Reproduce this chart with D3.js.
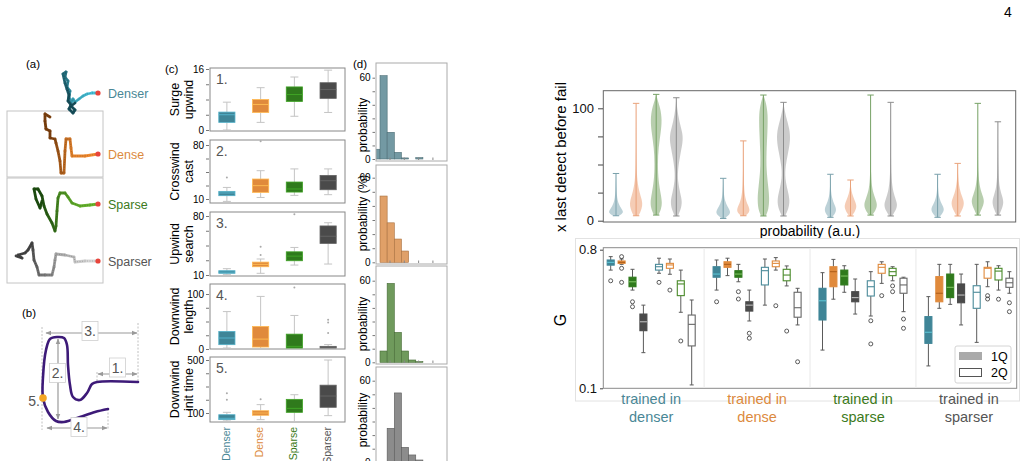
<!DOCTYPE html>
<html><head><meta charset="utf-8">
<script src="https://cdn.jsdelivr.net/npm/d3@7"></script>
<style>body{margin:0;background:#fff}svg{display:block}text{font-family:'Liberation Sans',Arial,Helvetica,sans-serif}</style>
</head><body><svg id="c" width="1029" height="461"></svg>
<script>
// ================= DATA =================
const envNames = ["Denser","Dense","Sparse","Sparser"];
// (a) trajectories, relative to the source (red dot); x to the right, y downward
const trajDenser = [[91,0],[85,0],[80,1],[76,3],[72,6],[68,9],[66,6],[64,10],[62,4],[63,-2],[60,-6],[61,-12],[58,-16],[59,-21],[56,-19],[58,-10],[60,-4],[62,2],[61,8],[64,12],[62,16],[66,20],[68,17],[64,13],[68,10]];
const trajDense = [[91,0],[78,2],[65,2],[64,-6],[63,-15],[59,-15],[58,-3],[57,19],[54,19],[53,7],[51,-3],[49,-11],[48,-15],[43,-16],[43,-23],[39,-25],[38,-33],[38,-40],[43,-37]];
const trajSparse = [[91,0],[83,1],[73,2],[65,-1],[61,-7],[58,-11],[53,-11],[51,-6],[50,7],[49,22],[48,27],[45,19],[40,10],[37,2],[35,-8],[31,-15],[27,-15],[29,-5],[33,4],[35,-3]];
const trajSparser = [[91,0],[78,0],[68,1],[67,-4],[58,-6],[49,-7],[48,-1],[47,6],[45,14],[38,14],[32,14],[30,6],[27,-1],[26,-11],[25,-18],[21,-11],[18,-8],[11,-6],[15,-3],[9,-5]];
// (b) schematic trajectory
const schematicPath = [[138,382],[97,382],[92,384],[87,393],[80,400],[73,397],[70,385],[68,365],[67,345],[64,338],[57,337],[50,339],[46,350],[43,377],[43,398],[48,412],[56,421],[64,422],[80,417],[95,412],[108,409]];
// (c) box stats [lo,q1,med,q3,hi] per environment
const metricLabels = [["Surge","upwind"],["Crosswind","cast"],["Upwind","search"],["Downwind","length"],["Downwind","init time"]];
const metricTickLabels = [[0,16],[10,80],[10,80],[0,100],[100,500]];
const surgeUpwind = [[0,2,4,4.7,7.3],[2,4.6,6.7,8,11.1],[3.6,7.5,9.3,11.3,13.9],[4.6,8.3,10.6,12.4,15.7]];
const surgeUpwindOut = [[],[],[],[]];
const crosswindCast = [[6.9,14.3,17.8,19.9,25],[12,18.6,27.3,35.9,46.7],[14.7,19,23,32,49],[15.6,22,33.7,40.6,49]];
const crosswindCastOut = [[38],[85],[],[]];
const upwindSearch = [[10.4,12,13.4,15.1,17.5],[12,19.8,22.6,25.3,29],[21.8,26.9,32.4,37.5,42.7],[23,47.5,56,68.2,72]];
const upwindSearchOut = [[],[33.6,43.4],[82],[]];
const downwindLength = [[1.8,7.9,20,32,68],[1,3.6,18,41,95.6],[0,1.8,4.8,27,61],[0,1.8,3,4.8,8]];
const downwindLengthOut = [[],[],[112],[29,48,53]];
const downwindInit = [[40,50,60,87,105],[50,83,100,117,163],[35,105,135,203,238],[80,143,228,310,500]];
const downwindInitOut = [[200,250],[203],[],[]];
// (d) histograms (probability, %) per bin index
const histBins = [-1,0,1,2,3,4,5];
const histDenser = [7.2,61.5,19.7,4.9,0.8,0,1];
const histDense = [0,47,28,16.5,8,0,0];
const histSparse = [0,8.3,58,22,8.3,1.7,0.5];
const histSparser = [0,0,25,51,11,5.4,1.7];
const histTicks = [1.4,3.4,5.4,7.4];
// violins: [value, relative density] per test environment, per training group
const violinDenser = [
 [[4.4,0.3],[6,0.8],[8,1.0],[11,0.7],[15,0.35],[20,0.15],[28,0.05],[42,0]],
 [[4.4,0.3],[8,0.6],[13,0.85],[18,0.8],[25,0.45],[35,0.15],[50,0.05],[70,0.02],[104.4,0]],
 [[5,0.3],[10,0.65],[16,0.8],[24,0.6],[35,0.3],[50,0.2],[65,0.3],[78,0.6],[90,0.78],[100,0.55],[107,0.2],[112.4,0]],
 [[4.2,0.2],[10,0.6],[17,0.8],[25,0.5],[35,0.2],[45,0.2],[58,0.5],[70,0.88],[78,0.85],[88,0.4],[100,0.1],[109.4,0]]];
const violinDense = [
 [[2,0.2],[5,0.8],[8,1.0],[12,0.6],[18,0.2],[25,0.06],[37.7,0]],
 [[4.4,0.3],[7,0.75],[10,0.87],[14,0.6],[20,0.25],[30,0.08],[50,0.02],[71,0]],
 [[4.2,0.3],[10,0.7],[20,0.8],[30,0.65],[45,0.4],[60,0.4],[80,0.55],[95,0.6],[105,0.35],[111.8,0]],
 [[4.2,0.2],[10,0.65],[18,0.87],[27,0.55],[38,0.2],[48,0.25],[60,0.6],[72,0.93],[82,0.8],[92,0.35],[100,0.1],[105.3,0]]];
const violinSparse = [
 [[3,0.2],[6,0.6],[10,0.82],[14,0.55],[20,0.2],[28,0.05],[41.3,0]],
 [[4.2,0.15],[8,0.6],[13,0.87],[18,0.55],[24,0.2],[30,0.06],[36.2,0]],
 [[5,0.2],[9,0.65],[14,0.93],[20,0.6],[28,0.2],[40,0.06],[60,0.02],[111.8,0]],
 [[4.2,0.2],[9,0.65],[14,0.93],[20,0.6],[28,0.25],[40,0.08],[60,0.03],[105.3,0]]];
const violinSparser = [
 [[3,0.2],[6,0.6],[10,0.93],[14,0.6],[20,0.2],[28,0.05],[41.3,0]],
 [[4.2,0.15],[9,0.55],[15.5,0.93],[21,0.6],[28,0.25],[38,0.06],[51,0]],
 [[5,0.15],[10,0.5],[17,0.93],[23,0.6],[30,0.25],[42,0.06],[60,0.02],[104.4,0]],
 [[5,0.15],[10,0.5],[16.4,0.8],[22,0.55],[30,0.2],[42,0.05],[88,0]]];
// G boxplots: first 4 = 1Q (filled), last 4 = 2Q (hollow)
const trainedDenser = [
 {s:[0.697,0.722,0.736,0.748,0.765],o:[0.643]},{s:[0.726,0.731,0.736,0.743,0.753],o:[0.765,0.706,0.635]},
 {s:[0.596,0.613,0.638,0.661,0.701],o:[0.537,0.512]},{s:[0.28,0.391,0.436,0.475,0.52],o:[]},
 {s:[0.681,0.697,0.714,0.726,0.757],o:[0.635]},{s:[0.676,0.706,0.723,0.731,0.753],o:[0.596]},
 {s:[0.484,0.568,0.627,0.643,0.697],o:[0.339]},{s:[0.117,0.314,0.423,0.47,0.546],o:[]}];
const trainedDense = [
 {s:[0.596,0.661,0.677,0.714,0.748],o:[0.537]},{s:[0.669,0.711,0.726,0.739,0.757],o:[]},
 {s:[0.638,0.661,0.677,0.694,0.726],o:[0.588,0.551]},{s:[0.44,0.49,0.52,0.537,0.596],o:[0.378,0.353]},
 {s:[0.52,0.622,0.694,0.711,0.753],o:[]},{s:[0.697,0.714,0.731,0.743,0.76],o:[0.517]},
 {s:[0.617,0.643,0.672,0.701,0.718],o:[0.389]},{s:[0.42,0.459,0.507,0.585,0.605],o:[0.234]}];
const trainedSparse = [
 {s:[0.293,0.445,0.542,0.605,0.684],o:[]},{s:[0.55,0.613,0.689,0.714,0.751],o:[]},
 {s:[0.585,0.622,0.667,0.697,0.719],o:[]},{s:[0.475,0.537,0.558,0.588,0.652],o:[]},
 {s:[0.465,0.566,0.613,0.643,0.689],o:[0.441,0.324]},{s:[0.63,0.681,0.711,0.726,0.739],o:[0.568]},
 {s:[0.643,0.669,0.689,0.706,0.714],o:[0.617,0.588]},{s:[0.487,0.58,0.622,0.656,0.661],o:[0.45,0.403]}];
const trainedSparser = [
 {s:[0.213,0.327,0.383,0.462,0.563],o:[]},{s:[0.504,0.537,0.58,0.664,0.726],o:[]},
 {s:[0.524,0.558,0.61,0.677,0.726],o:[]},{s:[0.42,0.532,0.571,0.627,0.677],o:[]},
 {s:[0.332,0.504,0.585,0.618,0.726],o:[]},{s:[0.613,0.656,0.706,0.711,0.739],o:[0.568,0.551]},
 {s:[0.596,0.647,0.692,0.706,0.719],o:[0.55]},{s:[0.58,0.61,0.633,0.656,0.689],o:[0.532,0.487]}];
const groupLabels = [["trained in","denser"],["trained in","dense"],["trained in","sparse"],["trained in","sparser"]];
const legendLabels = ["1Q","2Q"];

// ================= STYLE =================
const envColor = ["#4a8796","#dc8a3e","#3c7a20","#555555"];
const boxFill = ["#3f8597","#e08a3c","#2f7a1c","#4a4a4a"];
const boxMed = ["#5cc4d4","#b0601c","#7cc060","#bdbdbd"];
const hollowCol = ["#4a8a99","#e08a3c","#4a8a2a","#666666"];
const violinFill = ["#8fb2bc","#eeaa84","#88ad78","#a9a9a9"];
const violinLine = ["#7aa1ac","#e9a27a","#77a266","#8d8d8d"];
const histFill = ["#7399a3","#e0a068","#6f9a5c","#8c8c8c"];
const histStroke = ["#4d6e76","#a8703e","#466b36","#5a5a5a"];
const trajDark = ["#174e5a","#7a3f0e","#1d4d10","#444444"];
const trajLight = ["#48c4dc","#f08a30","#6ab82e","#d8d8d8"];

const svg = d3.select("#c");

// page number
svg.append("text").attr("x",1004).attr("y",17).attr("font-family","'Liberation Serif',serif").attr("font-size",14).text("4");

// ================= (a) =================
const gA = svg.append("g");
gA.append("text").attr("x",26).attr("y",68).attr("font-size",11.5).text("(a)");
gA.append("rect").attr("x",7).attr("y",111).attr("width",96).attr("height",66).attr("fill","none").attr("stroke","#c4c4c4");
gA.append("rect").attr("x",7).attr("y",178).attr("width",96).attr("height",105).attr("fill","none").attr("stroke","#c4c4c4");
const xA = d3.scaleLinear().domain([0,96]).range([7,103]);
const rowY = [93,154,204,261];
[trajDenser,trajDense,trajSparse,trajSparser].forEach((tr,k)=>{
  const yA = d3.scaleLinear().domain([0,100]).range([rowY[k],rowY[k]+100]);
  const col = d3.interpolateRgb(trajLight[k],trajDark[k]);
  for(let i=0;i<tr.length-1;i++){
    const t=i/(tr.length-2);
    gA.append("line").attr("x1",xA(tr[i][0])).attr("y1",yA(tr[i][1])).attr("x2",xA(tr[i+1][0])).attr("y2",yA(tr[i+1][1]))
      .attr("stroke",col(Math.min(1,t*1.3))).attr("stroke-width",2.8).attr("stroke-linecap","round");
  }
  gA.append("path").attr("d",d3.line().x(d=>xA(d[0])).y(d=>yA(d[1]))(tr)).attr("fill","none")
    .attr("stroke","rgba(0,0,0,0.25)").attr("stroke-width",0.8).attr("stroke-dasharray","1 1.5");
  gA.append("circle").attr("cx",xA(tr[0][0])).attr("cy",yA(tr[0][1])).attr("r",2.6).attr("fill","#e8453c");
  gA.append("text").attr("x",108).attr("y",rowY[k]+4.5).attr("font-size",12.5).attr("fill",envColor[k]).text(envNames[k]);
});

// ================= (b) =================
const gB = svg.append("g");
gB.append("text").attr("x",22).attr("y",317).attr("font-size",11.5).text("(b)");
const defs = svg.append("defs");
defs.append("marker").attr("id","ah").attr("viewBox","0 0 10 10").attr("refX",9).attr("refY",5)
  .attr("markerWidth",5).attr("markerHeight",5).attr("orient","auto-start-reverse")
  .append("path").attr("d","M0,1L10,5L0,9z").attr("fill","#9a9a9a");
const guide = (x1,y1,x2,y2)=>gB.append("line").attr("x1",x1).attr("y1",y1).attr("x2",x2).attr("y2",y2).attr("stroke","#b0b0b0").attr("stroke-width",0.8).attr("stroke-dasharray","2 1.5");
guide(42,327,42,430); guide(138,323,138,382); guide(97,372,97,382); guide(108,409,108,430);
const arrow = (x1,y1,x2,y2)=>gB.append("line").attr("x1",x1).attr("y1",y1).attr("x2",x2).attr("y2",y2).attr("stroke","#9a9a9a").attr("stroke-width",1.2).attr("marker-start","url(#ah)").attr("marker-end","url(#ah)");
arrow(46,333,137,333); arrow(98,374,137,374); arrow(58,339,58,419); arrow(47,428,107,428);
const sxB = d3.scaleLinear().domain([0,1]).range([0,1]);
gB.append("path").attr("d",d3.line().curve(d3.curveCatmullRom).x(d=>sxB(d[0])).y(d=>sxB(d[1]))(schematicPath))
  .attr("fill","none").attr("stroke","#3d1a78").attr("stroke-width",2.6).attr("stroke-linecap","round");
[["3.",90,331],["1.",117.5,367.5],["2.",57.5,373],["4.",79,427]].forEach(([t,x,y])=>{
  gB.append("rect").attr("x",x-8).attr("y",y-9.5).attr("width",16).attr("height",19).attr("fill","#fff").attr("stroke","#cfcfcf").attr("stroke-width",0.8);
  gB.append("text").attr("x",x).attr("y",y+5).attr("text-anchor","middle").attr("font-size",14).attr("fill","#555").text(t);
});
gB.append("circle").attr("cx",43).attr("cy",398).attr("r",3.8).attr("fill","#f5a623");
gB.append("text").attr("x",40).attr("y",406).attr("text-anchor","end").attr("font-size",14).attr("fill","#555").text("5.");

// ================= (c) =================
const gC = svg.append("g");
gC.append("text").attr("x",165).attr("y",73).attr("font-size",11.5).text("(c)");
const cFrames = [[68,131,130,69],[140,203,199,145],[212,276,275,216],[284,349,349,294],[357,422,413,360]];
const cData = [[surgeUpwind,surgeUpwindOut],[crosswindCast,crosswindCastOut],[upwindSearch,upwindSearchOut],[downwindLength,downwindLengthOut],[downwindInit,downwindInitOut]];
const xC = d3.scaleBand().domain(envNames).range([210,345]).paddingInner(0.52).paddingOuter(0.26);
cFrames.forEach((f,k)=>{
  const [top,bot,yLo,yHi]=f;
  const tl=metricTickLabels[k];
  const y = d3.scaleLinear().domain(tl).range([yLo,yHi]);
  const g = gC.append("g");
  g.append("rect").attr("x",210).attr("y",top).attr("width",135).attr("height",bot-top).attr("fill","none").attr("stroke","#888").attr("stroke-width",1);
  const ax = d3.axisLeft(y).tickValues(d3.range(5).map(i=>tl[0]+(tl[1]-tl[0])*i/4)).tickSize(3).tickFormat(d=>(d===tl[0]||d===tl[1])?d:"");
  const axg=g.append("g").attr("transform","translate(209,0)").call(ax);
  axg.select(".domain").remove();
  axg.selectAll("line").attr("stroke","#777");
  axg.selectAll("text").attr("font-size",10).attr("font-family","'Liberation Sans',Arial,sans-serif").attr("dx",1);
  g.append("text").attr("x",216).attr("y",top+16).attr("font-size",14).attr("fill","#555").text((k+1)+".");
  const lab = metricLabels[k], cy=(top+bot)/2;
  lab.forEach((l,j)=>g.append("text").attr("transform",`translate(${179+j*14},${cy}) rotate(-90)`).attr("text-anchor","middle").attr("font-size",12.5).text(l));
  const [stats,outs]=cData[k];
  stats.forEach((s,i)=>{
    const cx = xC(envNames[i])+xC.bandwidth()/2, w=xC.bandwidth();
    const wc="#c4c4c4";
    g.append("line").attr("x1",cx).attr("x2",cx).attr("y1",y(s[0])).attr("y2",y(s[1])).attr("stroke",wc);
    g.append("line").attr("x1",cx).attr("x2",cx).attr("y1",y(s[3])).attr("y2",y(s[4])).attr("stroke",wc);
    [s[0],s[4]].forEach(v=>g.append("line").attr("x1",cx-4).attr("x2",cx+4).attr("y1",y(v)).attr("y2",y(v)).attr("stroke",wc));
    g.append("rect").attr("x",cx-w/2).attr("y",y(s[3])).attr("width",w).attr("height",Math.max(1,y(s[1])-y(s[3])))
      .attr("fill",boxFill[i]).attr("stroke",d3.color(boxFill[i]).brighter(0.8)).attr("stroke-width",0.8);
    g.append("line").attr("x1",cx-w/2).attr("x2",cx+w/2).attr("y1",y(s[2])).attr("y2",y(s[2])).attr("stroke",d3.color(boxFill[i]).brighter(0.9)).attr("stroke-width",0.9);
    outs[i].forEach(v=>g.append("circle").attr("cx",cx).attr("cy",y(v)).attr("r",1).attr("fill","#aaa"));
  });
});
envNames.forEach((n,i)=>{
  const cx = xC(n)+xC.bandwidth()/2-1;
  gC.append("text").attr("transform",`translate(${cx},427) rotate(-90)`).attr("text-anchor","end").attr("dy","0.35em").attr("font-size",10.5).attr("fill",envColor[i]).text(n);
});

// ================= (d) =================
const gD = svg.append("g");
gD.append("text").attr("x",353).attr("y",68).attr("font-size",11.5).text("(d)");
const dFrames = [[63,161,159,77.7,125],[165,264,262.3,177.7,213],[266,364,362.3,280.7,324],[367,466,462.3,380.7,420]];
const hists=[histDenser,histDense,histSparse,histSparser];
const xD = d3.scaleLinear().domain([0,1]).range([380,387.15]);
dFrames.forEach((f,k)=>{
  const [top,bot,y0,y60,labY]=f;
  const y=d3.scaleLinear().domain([0,60]).range([y0,y60]);
  const g=gD.append("g");
  const cid="clipD"+k;
  defs.append("clipPath").attr("id",cid).append("rect").attr("x",376).attr("y",top).attr("width",71).attr("height",bot-top);
  const bars=g.append("g").attr("clip-path",`url(#${cid})`);
  hists[k].forEach((v,i)=>{ if(v<=0) return;
    bars.append("rect").attr("x",xD(histBins[i])).attr("width",xD(1)-xD(0)).attr("y",y(v)).attr("height",y(0)-y(v))
      .attr("fill",histFill[k]).attr("stroke",histStroke[k]).attr("stroke-width",0.6);
  });
  g.append("rect").attr("x",376).attr("y",top).attr("width",71).attr("height",bot-top).attr("fill","none").attr("stroke","#aaa");
  const ax=d3.axisLeft(y).tickValues([0,10,20,30,40,50,60]).tickSize(2.5).tickFormat(d=>(d===0||d===60)?d:"");
  const axg=g.append("g").attr("transform","translate(375,0)").call(ax);
  axg.select(".domain").remove(); axg.selectAll("line").attr("stroke","#777");
  axg.selectAll("text").attr("font-size",10).attr("font-family","'Liberation Sans',Arial,sans-serif").attr("dx",1);
  histTicks.forEach(t=>g.append("line").attr("x1",xD(t)).attr("x2",xD(t)).attr("y1",bot-1).attr("y2",bot-3.5).attr("stroke","#888"));
  g.append("text").attr("transform",`translate(367,${labY}) rotate(-90)`).attr("text-anchor","middle").attr("font-size",12)
    .text(k===1?"probability (%)":"probability");
});

// ================= violins =================
const gV = svg.append("g");
const yV = d3.scaleLinear().domain([0,100]).range([220.7,108.3]);
const wV = d3.scaleLinear().domain([0,1]).range([0,7.5]);
const xVg = d3.scaleLinear().domain([0,1]).range([616,723.2]);
const xVi = d3.scaleLinear().domain([0,1]).range([0,20.1]);
gV.append("rect").attr("x",603.3).attr("y",90.7).attr("width",412.4).attr("height",131.3).attr("fill","none").attr("stroke","#666");
[violinDenser,violinDense,violinSparse,violinSparser].forEach((grp,gi)=>{
  grp.forEach((prof,i)=>{
    const cx = xVg(gi)+xVi(i);
    const area=d3.area().curve(d3.curveBasis).y(d=>yV(d[0])).x0(d=>cx-wV(d[1])).x1(d=>cx+wV(d[1]));
    gV.append("path").attr("d",area(prof)).attr("fill",violinFill[i]).attr("fill-opacity",0.6);
    const lo=prof[0][0], hi=prof[prof.length-1][0];
    gV.append("line").attr("x1",cx).attr("x2",cx).attr("y1",yV(lo)).attr("y2",yV(hi)).attr("stroke",violinLine[i]).attr("stroke-width",1);
    [lo,hi].forEach(v=>gV.append("line").attr("x1",cx-3.2).attr("x2",cx+3.2).attr("y1",yV(v)).attr("y2",yV(v)).attr("stroke",violinLine[i]).attr("stroke-width",1));
  });
});
const axV=d3.axisLeft(yV).tickValues([0,25,50,75,100]).tickSize(5).tickFormat(d=>(d===0||d===100)?d:"");
const axVg=gV.append("g").attr("transform","translate(603,0)").call(axV);
axVg.select(".domain").remove(); axVg.selectAll("line").attr("stroke","#444");
axVg.selectAll("text").attr("font-size",13).attr("font-family","'Liberation Sans',Arial,sans-serif").attr("fill","#111").attr("dx",-1);
gV.append("text").attr("transform","translate(566,157) rotate(-90)").attr("text-anchor","middle").attr("font-size",15).text("x last detect before fail");
gV.append("text").attr("x",810).attr("y",236).attr("text-anchor","middle").attr("font-size",14).text("probability (a.u.)");

// ================= G boxplots =================
const gG = svg.append("g");
const yG = d3.scaleLinear().domain([0.1,0.8]).range([388.3,249.7]);
const xGg = d3.scaleLinear().domain([0,1]).range([603.3,709.2]);
const xGi = i=>7.4+10.9*i+(i>=4?4.7:0);
gG.append("rect").attr("x",575.5).attr("y",238.5).attr("width",444).attr("height",162.5).attr("fill","none").attr("stroke","#e2e2e2");
gG.append("rect").attr("x",603.3).attr("y",247.7).attr("width",413.4).attr("height",140.6).attr("fill","none").attr("stroke","#8a8a8a");
[1,2,3].forEach(g=>{
  const x=(xGg(g-1)+xGi(7)+xGg(g)+xGi(0))/2;
  gG.append("line").attr("x1",x).attr("x2",x).attr("y1",248.2).attr("y2",387.8).attr("stroke","#ececec").attr("stroke-width",1.2);
});
const axG=d3.axisLeft(yG).tickValues([0.1,0.8]).tickSize(3).tickFormat(d3.format(".1f"));
const axGg=gG.append("g").attr("transform","translate(603,0)").call(axG);
axGg.select(".domain").remove(); axGg.selectAll("line").attr("stroke","#444");
axGg.selectAll("text").attr("font-size",13).attr("font-family","'Liberation Sans',Arial,sans-serif").attr("fill","#111");
gG.append("text").attr("transform","translate(566,320) rotate(-90)").attr("text-anchor","middle").attr("font-size",16).text("G");
[trainedDenser,trainedDense,trainedSparse,trainedSparser].forEach((grp,gi)=>{
  grp.forEach((b,i)=>{
    const cx=xGg(gi)+xGi(i), w=7, s=b.s, c=i%4, filled=i<4;
    const wc="#5a5a5a";
    gG.append("line").attr("x1",cx).attr("x2",cx).attr("y1",yG(s[0])).attr("y2",yG(s[1])).attr("stroke",wc).attr("stroke-width",1);
    gG.append("line").attr("x1",cx).attr("x2",cx).attr("y1",yG(s[3])).attr("y2",yG(s[4])).attr("stroke",wc).attr("stroke-width",1);
    [s[0],s[4]].forEach(v=>gG.append("line").attr("x1",cx-2).attr("x2",cx+2).attr("y1",yG(v)).attr("y2",yG(v)).attr("stroke",wc));
    gG.append("rect").attr("x",cx-w/2).attr("y",yG(s[3])).attr("width",w).attr("height",Math.max(1,yG(s[1])-yG(s[3])))
      .attr("fill",filled?boxFill[c]:"#fff").attr("stroke",filled?boxFill[c]:hollowCol[c]).attr("stroke-width",1.1);
    gG.append("line").attr("x1",cx-w/2).attr("x2",cx+w/2).attr("y1",yG(s[2])).attr("y2",yG(s[2]))
      .attr("stroke",filled?boxMed[c]:hollowCol[c]).attr("stroke-width",1.1);
    b.o.forEach(v=>gG.append("circle").attr("cx",cx).attr("cy",yG(v)).attr("r",2).attr("fill","none").attr("stroke","#333").attr("stroke-width",0.8));
  });
  const gc = xGg(gi)+(xGi(0)+xGi(7))/2;
  groupLabels[gi].forEach((t,j)=>gG.append("text").attr("x",gc).attr("y",404+j*18).attr("text-anchor","middle").attr("font-size",14.5).attr("fill",envColor[gi]).text(t));
});
// legend
const lg=gG.append("g");
lg.append("rect").attr("x",955).attr("y",346).attr("width",56).attr("height",37).attr("rx",2).attr("fill","#fff").attr("fill-opacity",0.85).attr("stroke","#d4d4d4");
lg.append("rect").attr("x",959).attr("y",352).attr("width",23).attr("height",8).attr("fill","#aaaaaa");
lg.append("rect").attr("x",959.5).attr("y",368.5).attr("width",22).attr("height",8).attr("fill","#fff").attr("stroke","#555");
legendLabels.forEach((t,j)=>lg.append("text").attr("x",991).attr("y",360.5+j*16.5).attr("font-size",12.5).text(t));
</script></body></html>
